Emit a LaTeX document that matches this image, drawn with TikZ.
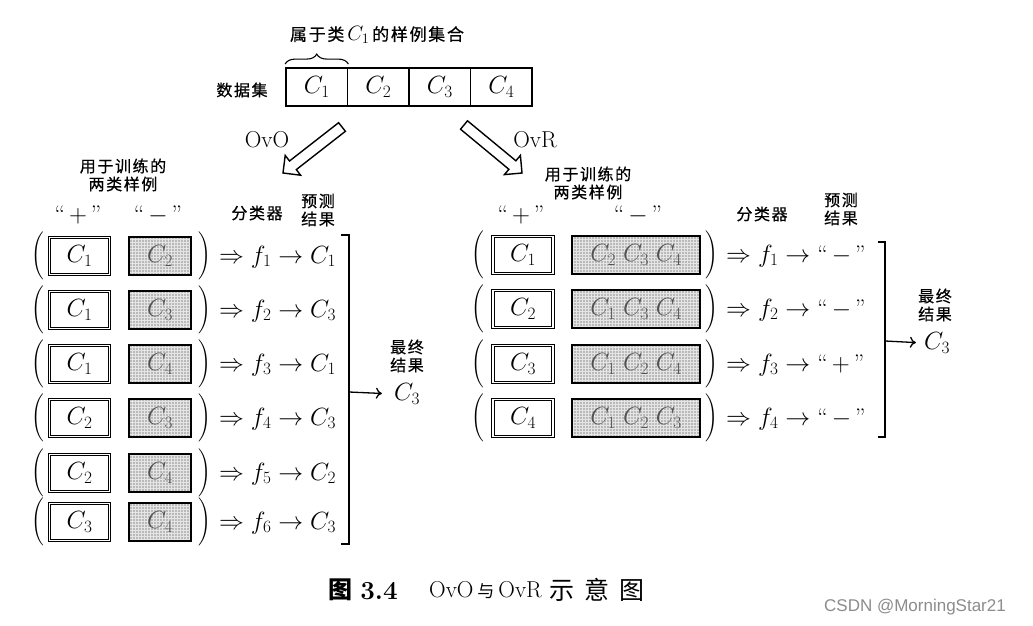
\documentclass[tikz,border=0pt]{standalone}
\usepackage{fontspec}
\newfontfamily\cjk[LetterSpace=10, FakeBold=0.6]{Noto Sans CJK SC}
\newfontfamily\cjkb[LetterSpace=0]{Noto Sans CJK SC}
\newfontfamily\wmfont{Liberation Sans}
\usetikzlibrary{arrows.meta,decorations.pathreplacing,patterns}
\begin{document}
\begin{tikzpicture}[x=1pt,y=-1pt,
  zh/.style={font=\cjk\fontsize{16}{19}\selectfont, inner sep=0pt, align=center},
  m/.style={font=\fontsize{24}{28}\selectfont, inner sep=0pt},
  dbox/.style={draw, line width=1.8pt, minimum width=61.5pt, minimum height=38pt, inner sep=0pt, font=\fontsize{24}{28}\selectfont},
  posbox/.style={draw, double, double distance=1.1pt, line width=1.1pt, minimum width=60pt, minimum height=37pt, inner sep=0pt, font=\fontsize{24}{28}\selectfont},
  negbox/.style={preaction={fill=gray!55}, preaction={pattern=grid, pattern color=gray!20}, draw, line width=2.2pt, minimum height=38pt, inner sep=0pt, text=black!68, font=\fontsize{24}{28}\selectfont},
  paren/.style={scale=1.6, inner sep=0pt},
  hollow/.style={draw, line width=1.4pt, fill=white, line join=miter},
  brk/.style={line width=1.3pt},
  conn/.style={line width=1.3pt, -{Computer Modern Rightarrow[length=6pt,width=11pt]}},
  lat/.style={font=\fontsize{23}{26}\selectfont, inner sep=0pt}
]
\fill[white] (0,0) rectangle (1033,626);
\useasboundingbox (0,0) rectangle (1033,626);

% ---------- data set ----------
\node[zh] (sets) at (242,90) {数据集};
\node[dbox] (d1) at (316.75,87) {$C_1$};
\node[dbox] (d2) at (378.25,87) {$C_2$};
\node[dbox] (d3) at (439.75,87) {$C_3$};
\node[dbox] (d4) at (501.25,87) {$C_4$};
\draw[decorate, decoration={brace, amplitude=10pt}, line width=1.1pt]
  ([yshift=3pt]d1.north west) -- ([yshift=3pt]d1.north east);
\node[zh, font=\cjk\fontsize{17}{20}\selectfont] (setlbl) at (377,35) {属于类\,{\fontsize{22}{24}\selectfont$C_1$}\,的样例集合};

% ---------- hollow arrows ----------
\draw[hollow] (345.4,131.3) -- (296.3,169.6) -- (300.6,175.2) -- (283,173)
  -- (285.2,155.4) -- (289.5,161.0) -- (338.6,122.7) -- cycle;
\node[lat] (ovo) at (267,140) {OvO};
\draw[hollow] (460.5,129.2) -- (508.9,169.3) -- (504.4,174.6) -- (522,173)
  -- (520.4,155.4) -- (515.9,160.8) -- (467.5,120.8) -- cycle;
\node[lat] (ovr) at (535,140) {OvR};

% ---------- left panel (OvO) ----------
\node[zh] (lt1) at (123,175) {用于训练的\\[-1pt]两类样例};
\node[m] (lplus) at (78,215) {\textquotedblleft\,$+$\,\textquotedblright};
\node[m] (lminus) at (158,215) {\textquotedblleft\,$-$\,\textquotedblright};
\node[zh] (lcls) at (257,213) {分类器};
\node[zh] (lpred) at (318,210) {预测\\[-1pt]结果};

\foreach \y/\p/\n/\f/\r [count=\i] in {256/1/2/1/1, 310/1/3/2/3, 364/1/4/3/1, 418/2/3/4/3, 473/2/4/5/2, 522/3/4/6/3}{
  \node[paren] (lpl\i) at (38,\y) {$\Bigg($};
  \node[posbox] (lpos\i) at (79.5,\y) {$C_{\p}$};
  \node[negbox, minimum width=62pt] (lneg\i) at (160,\y) {$C_{\n}$};
  \node[paren] (lpr\i) at (205,\y) {$\Bigg)$};
  \node[m, anchor=west] (lres\i) at (219,\y+1) {$\Rightarrow f_{\f} \rightarrow C_{\r}$};
}
\coordinate (lbt) at (349,235);
\coordinate (lbb) at (349,544);
\coordinate (lba) at (349,392);
\draw[brk] (341,235) -- (lbt) -- (lbb) -- (341,544);
\node[zh] (lfl) at (407,356) {最终\\[-1pt]结果};
\node[m] (lfin) at (407,394) {$C_3$};
\draw[conn, shorten >=12pt] (lba) -- (lfin.west);

% ---------- right panel (OvR) ----------
\node[zh] (rt1) at (588,183) {用于训练的\\[-1pt]两类样例};
\node[m] (rplus) at (521,215) {\textquotedblleft\,$+$\,\textquotedblright};
\node[m] (rminus) at (638,215) {\textquotedblleft\,$-$\,\textquotedblright};
\node[zh] (rcls) at (762,214) {分类器};
\node[zh] (rpred) at (841,209) {预测\\[-1pt]结果};

\foreach \y/\p/\n/\f/\r [count=\i] in {255/1/{C_2\;C_3\;C_4}/1/-, 309/2/{C_1\;C_3\;C_4}/2/-, 364/3/{C_1\;C_2\;C_4}/3/+, 418/4/{C_1\;C_2\;C_3}/4/-}{
  \node[paren] (rpl\i) at (478,\y) {$\Bigg($};
  \node[posbox] (rpos\i) at (523,\y) {$C_{\p}$};
  \node[negbox, minimum width=128pt] (rneg\i) at (636,\y) {$\n$};
  \node[paren] (rpr\i) at (712,\y) {$\Bigg)$};
  \node[m, anchor=west] (rres\i) at (726,\y+1) {$\Rightarrow f_{\f} \rightarrow$ \textquotedblleft\,$\r$\,\textquotedblright};
}
\coordinate (rbt) at (885,242);
\coordinate (rbb) at (885,437);
\coordinate (rba) at (885,341);
\draw[brk] (878,242) -- (rbt) -- (rbb) -- (878,437);
\node[zh] (rfl) at (935,305) {最终\\[-1pt]结果};
\node[m] (rfin) at (937,343) {$C_3$};
\draw[conn, shorten >=8pt] (rba) -- (rfin.west);

% ---------- caption ----------
\node[font=\cjkb\fontsize{24}{26}\selectfont\bfseries, inner sep=0pt] (cap1) at (340,590) {图};
\node[font=\fontsize{26}{28}\selectfont\bfseries, inner sep=0pt] (cap2) at (379,591) {3.4};
\node[font=\fontsize{23}{26}\selectfont, inner sep=0pt, anchor=west] (cap3) at (429,590)
  {OvO\hspace{4pt}{\cjkb\fontsize{17}{20}\selectfont 与}\hspace{4pt}OvR};
\node[font=\cjkb\fontsize{25}{27}\selectfont\addfontfeature{LetterSpace=40}, inner sep=0pt, anchor=west] (cap4) at (549,590) {示意图};

% ---------- watermark ----------
\node[font=\wmfont\fontsize{17}{20}\selectfont, text=black!45, inner sep=0pt] (wm) at (915,607) {CSDN @MorningStar21};
\end{tikzpicture}
\end{document}
